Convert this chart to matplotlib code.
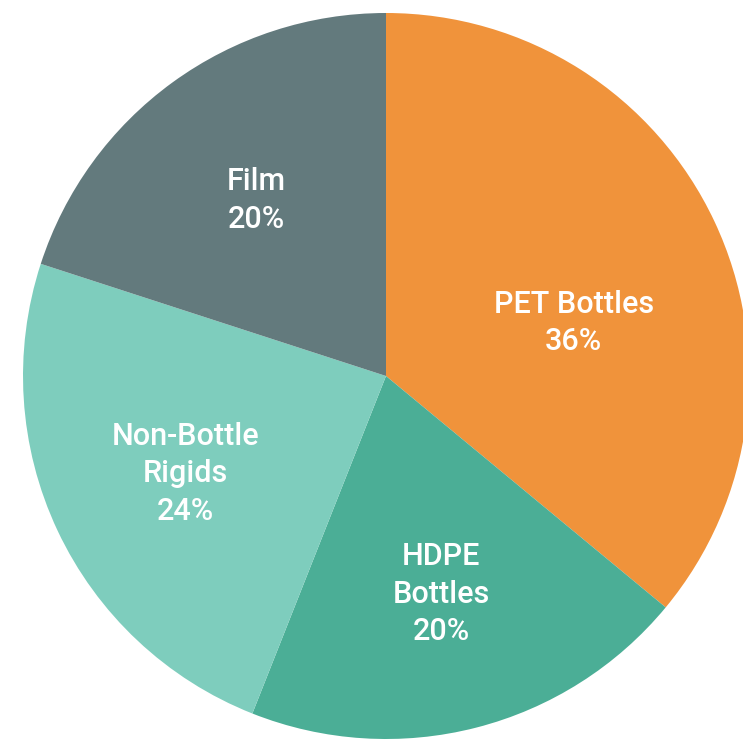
import matplotlib.pyplot as plt
import numpy as np

labels = ['PET Bottles', 'HDPE\nBottles', 'Non-Bottle\nRigids', 'Film']
shares = [36, 20, 24, 20]
colors = ['#F0933B', '#4BAE96', '#7ECDBD', '#637A7D']

plt.rcParams['font.family'] = ['Roboto', 'DejaVu Sans']

fig = plt.figure(figsize=(7.43, 7.46), dpi=100)
ax = fig.add_axes([0, 0, 1, 1])

wedges, _ = ax.pie(shares, colors=colors, startangle=90, counterclock=False,
                   radius=1.0, wedgeprops=dict(linewidth=0))

# labels sit inside each wedge, PET pulled in a bit since the pie runs off the right edge
for w, lab, val in zip(wedges, labels, shares):
    mid = np.deg2rad((w.theta1 + w.theta2) / 2)
    r = 0.61
    if lab == 'PET Bottles':
        mid = np.deg2rad(16.7)
        r = 0.54
    ax.text(r * np.cos(mid), r * np.sin(mid) - 0.01, f'{lab}\n{val}%',
            ha='center', va='center', color='white', fontsize=22,
            fontweight='medium', linespacing=1.36)

ax.set_xlim(-386 / 363, (743 - 386) / 363)
ax.set_ylim((376 - 746) / 363, 376 / 363)
ax.set_aspect('auto')
ax.axis('off')

fig.savefig('out.png', dpi=100)
